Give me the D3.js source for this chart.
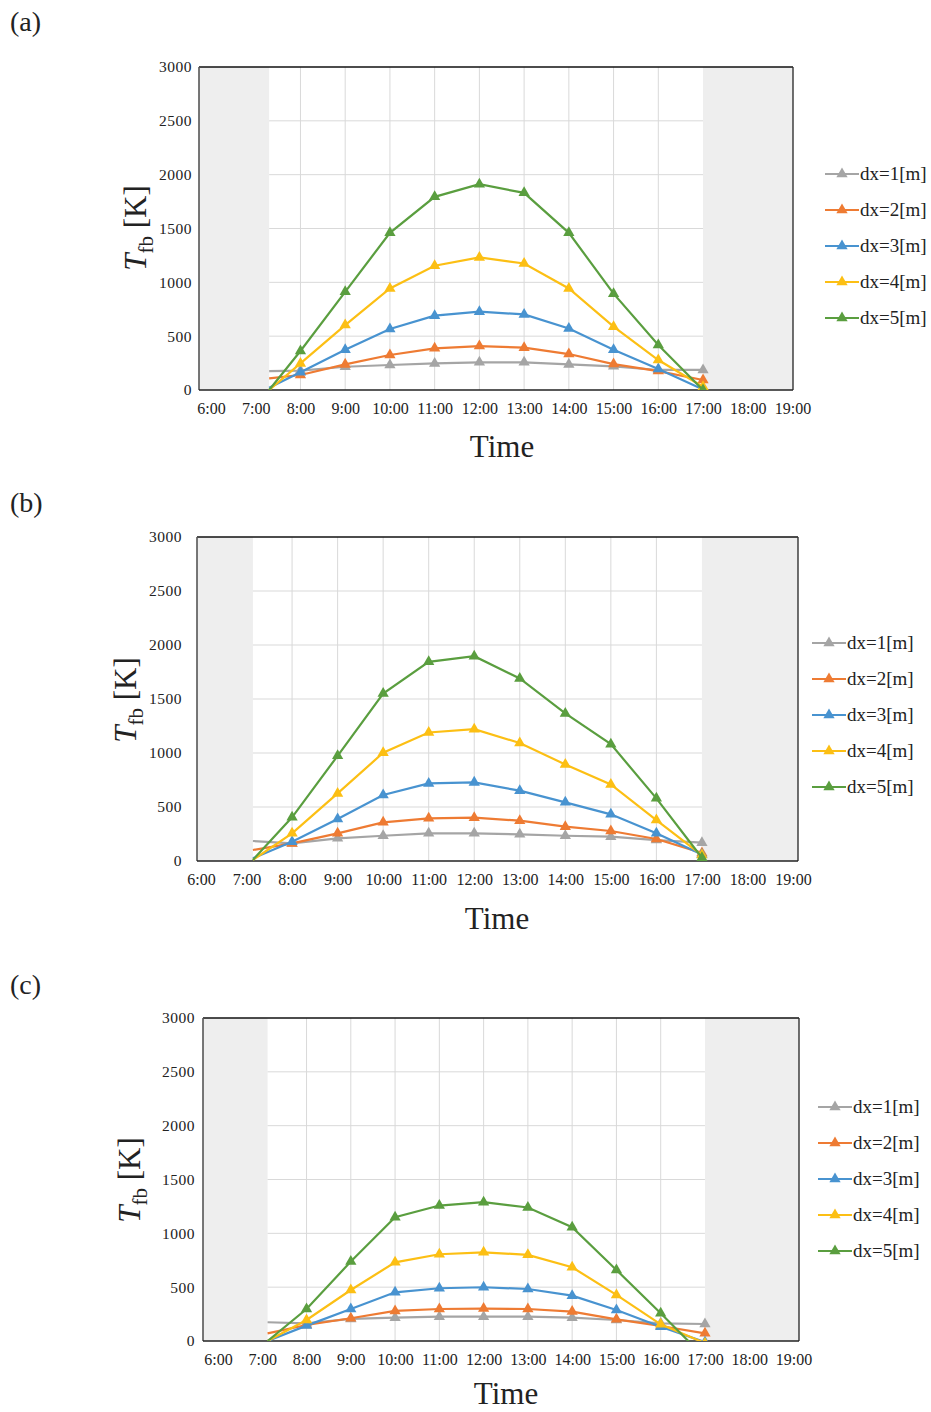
<!DOCTYPE html>
<html>
<head>
<meta charset="utf-8">
<script src="https://cdn.jsdelivr.net/npm/d3@7"></script>
<style>
  body { margin: 0; background: #fff; }
  text { font-family: "Liberation Serif", "Times New Roman", serif; fill: #222; }
</style>
</head>
<body>
<div id="chart"></div>
<script>
// hours shown on the x axis, and hours where markers sit
const tickHours = [6, 7, 8, 9, 10, 11, 12, 13, 14, 15, 16, 17, 18, 19];
const tickLabels = ["6:00", "7:00", "8:00", "9:00", "10:00", "11:00", "12:00", "13:00", "14:00", "15:00", "16:00", "17:00", "18:00", "19:00"];
const markerHours = [8, 9, 10, 11, 12, 13, 14, 15, 16, 17];
const yTicks = [0, 500, 1000, 1500, 2000, 2500, 3000];
const seriesNames = ["dx=1[m]", "dx=2[m]", "dx=3[m]", "dx=4[m]", "dx=5[m]"];
const panelLabels = ["(a)", "(b)", "(c)"];
const sunrise = [7.3, 7.14, 7.12];   // lines start here (end of the grey band)
const sunset = 17;

// (a) values at sunrise, then 8:00 .. 17:00
const startA = [176, 108, 20, 0, 0];
const a1 = [180, 216, 232, 247, 257, 257, 238, 220, 186, 186];
const a2 = [139, 238, 325, 387, 408, 393, 334, 241, 176, 93];
const a3 = [164, 374, 566, 690, 727, 702, 572, 374, 195, 5];
const a4 = [247, 603, 943, 1154, 1231, 1175, 943, 588, 278, 30];
const a5 = [362, 912, 1460, 1794, 1911, 1831, 1460, 895, 418, 0];

// (b)
const startB = [185, 102, 25, 10, 10];
const b1 = [163, 210, 234, 256, 256, 247, 234, 225, 194, 170];
const b2 = [163, 256, 358, 395, 401, 373, 318, 278, 204, 75];
const b3 = [179, 389, 611, 718, 728, 651, 543, 432, 256, 60];
const b4 = [256, 626, 1002, 1190, 1221, 1092, 894, 709, 379, 55];
const b5 = [404, 974, 1551, 1844, 1896, 1690, 1366, 1082, 580, 30];

// (c)
const startC = [174, 71, 0, 0, 0];
const c1 = [164, 205, 217, 226, 226, 226, 217, 195, 164, 158];
const c2 = [149, 211, 279, 297, 301, 297, 273, 201, 139, 71];
const c3 = [143, 297, 452, 490, 499, 483, 421, 288, 133, -10];
const c4 = [195, 474, 731, 806, 824, 800, 685, 428, 155, -20];
const c5 = [297, 738, 1150, 1258, 1289, 1240, 1057, 660, 257, -155];

const panelData = [
  { start: startA, series: [a1, a2, a3, a4, a5] },
  { start: startB, series: [b1, b2, b3, b4, b5] },
  { start: startC, series: [c1, c2, c3, c4, c5] }
];

const colors = ["#a5a5a5", "#ee7b33", "#4893d0", "#fcbf14", "#5a9e3f"];

// page layout of each panel
const layouts = [
  { left: 199, right: 793, top: 67, bottom: 390, x6: 211, x19: 792.5, tickGap: 7,
    labelY: 31, titleX: 146, titleY: 228, timeX: 502, timeY: 457, legendX: 825, legendY: 174 },
  { left: 197, right: 798, top: 537, bottom: 861, x6: 201, x19: 793, tickGap: 15,
    labelY: 512, titleX: 136, titleY: 700, timeX: 497, timeY: 929, legendX: 812, legendY: 643 },
  { left: 203, right: 799, top: 1018, bottom: 1341, x6: 218, x19: 793.5, tickGap: 8,
    labelY: 994, titleX: 140, titleY: 1180, timeX: 506, timeY: 1404, legendX: 818, legendY: 1107 }
];

const svg = d3.select("#chart").append("svg")
  .attr("width", 931).attr("height", 1412);

const tri = d3.symbol().type(d3.symbolTriangle).size(55);

layouts.forEach((L, p) => {
  const g = svg.append("g");
  const x = d3.scaleLinear().domain([6, 19]).range([L.x6, L.x19]);
  const y = d3.scaleLinear().domain([0, 3000]).range([L.bottom, L.top]);
  const dawn = sunrise[p];

  // grey night bands
  g.append("rect").attr("x", L.left).attr("y", L.top)
    .attr("width", x(dawn) - L.left).attr("height", L.bottom - L.top).attr("fill", "#eeeeee");
  g.append("rect").attr("x", x(sunset)).attr("y", L.top)
    .attr("width", L.right - x(sunset)).attr("height", L.bottom - L.top).attr("fill", "#eeeeee");

  // grid
  g.selectAll(".hg").data(yTicks.filter(v => v > 0 && v < 3000)).enter().append("line")
    .attr("x1", x(dawn)).attr("x2", x(sunset))
    .attr("y1", d => y(d)).attr("y2", d => y(d))
    .attr("stroke", "#d9d9d9").attr("stroke-width", 1);
  g.selectAll(".vg").data(markerHours.filter(h => h < sunset)).enter().append("line")
    .attr("x1", d => x(d)).attr("x2", d => x(d))
    .attr("y1", L.top).attr("y2", L.bottom)
    .attr("stroke", "#d9d9d9").attr("stroke-width", 1);

  // frame
  g.append("line").attr("x1", L.left).attr("x2", L.right).attr("y1", L.top).attr("y2", L.top)
    .attr("stroke", "#111").attr("stroke-width", 1.6);
  g.append("line").attr("x1", L.right).attr("x2", L.right).attr("y1", L.top).attr("y2", L.bottom)
    .attr("stroke", "#333").attr("stroke-width", 1.4);
  g.append("line").attr("x1", L.left).attr("x2", L.left).attr("y1", L.top).attr("y2", L.bottom)
    .attr("stroke", "#555").attr("stroke-width", 1.6);

  // axes
  const xAxis = g.append("g").attr("transform", `translate(0,${L.bottom})`)
    .call(d3.axisBottom(x).tickValues(tickHours).tickFormat((d, i) => tickLabels[i]).tickSize(0).tickPadding(13));
  xAxis.select(".domain").attr("stroke", "#222").attr("stroke-width", 1.6)
    .attr("d", `M${L.left},0H${L.right}`);
  xAxis.selectAll("text").attr("font-size", 16).attr("font-family", "Liberation Serif").attr("fill", "#222");

  const yAxis = g.append("g").attr("transform", `translate(${L.left},0)`)
    .call(d3.axisLeft(y).tickValues(yTicks).tickFormat(d3.format("d")).tickSize(0).tickPadding(L.tickGap));
  yAxis.select(".domain").remove();
  yAxis.selectAll("text").attr("font-size", 15.5).attr("font-family", "Liberation Serif")
    .attr("letter-spacing", 0.5).attr("fill", "#222");

  // clip for series
  const clipId = "clip" + p;
  svg.append("clipPath").attr("id", clipId).append("rect")
    .attr("x", L.left).attr("y", L.top - 10).attr("width", L.right - L.left).attr("height", L.bottom - L.top + 10);

  const line = d3.line().x(d => x(d[0])).y(d => y(d[1]));
  const data = panelData[p];
  const sg = g.append("g").attr("clip-path", `url(#${clipId})`);
  data.series.forEach((vals, s) => {
    const pts = [[dawn, data.start[s]]].concat(markerHours.map((h, i) => [h, vals[i]]));
    sg.append("path").datum(pts).attr("d", line)
      .attr("fill", "none").attr("stroke", colors[s]).attr("stroke-width", 2.2);
    sg.selectAll(".m" + s).data(markerHours.map((h, i) => [h, vals[i]])).enter().append("path")
      .attr("d", tri).attr("transform", d => `translate(${x(d[0])},${y(d[1])})`)
      .attr("fill", colors[s]);
  });

  // legend
  const lg = g.append("g").attr("transform", `translate(${L.legendX},${L.legendY})`);
  seriesNames.forEach((name, s) => {
    const row = lg.append("g").attr("transform", `translate(0,${s * 36})`);
    row.append("line").attr("x1", 0).attr("x2", 34).attr("y1", 0).attr("y2", 0)
      .attr("stroke", colors[s]).attr("stroke-width", 2.2);
    row.append("path").attr("d", tri).attr("transform", "translate(17,0)").attr("fill", colors[s]);
    row.append("text").attr("x", 35).attr("y", 6).attr("font-size", 19).text(name);
  });

  // axis titles
  const yt = g.append("text")
    .attr("transform", `translate(${L.titleX},${L.titleY}) rotate(-90)`)
    .attr("text-anchor", "middle").attr("font-size", 31);
  yt.append("tspan").attr("font-style", "italic").text("T");
  yt.append("tspan").attr("font-size", 21).attr("dy", 7).text("fb");
  yt.append("tspan").attr("dy", -7).text(" [K]");

  g.append("text").attr("x", L.timeX).attr("y", L.timeY).attr("text-anchor", "middle")
    .attr("font-size", 31).text("Time");

  g.append("text").attr("x", 10).attr("y", L.labelY).attr("font-size", 28).text(panelLabels[p]);
});
</script>
</body>
</html>
